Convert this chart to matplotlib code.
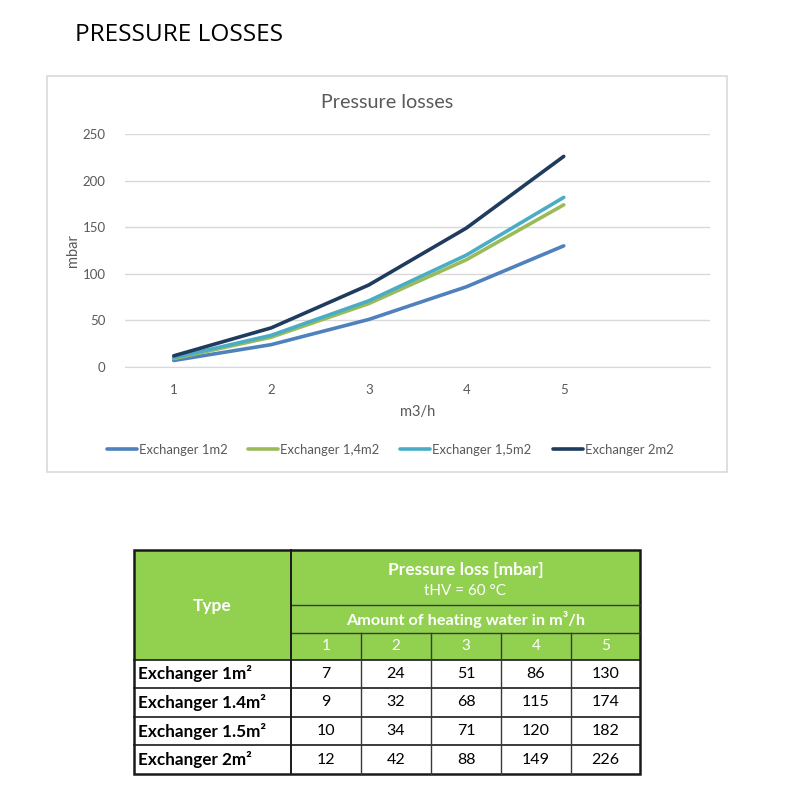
import matplotlib
matplotlib.use("Agg")
import matplotlib.pyplot as plt
from matplotlib.patches import Rectangle

# ---------------- data ----------------
flow = [1, 2, 3, 4, 5]
series_names = ["Exchanger 1m2", "Exchanger 1,4m2", "Exchanger 1,5m2", "Exchanger 2m2"]
table_names = ["Exchanger 1m\u00b2", "Exchanger 1.4m\u00b2", "Exchanger 1.5m\u00b2", "Exchanger 2m\u00b2"]
ex_1m2 = [7, 24, 51, 86, 130]
ex_14m2 = [9, 32, 68, 115, 174]
ex_15m2 = [10, 34, 71, 120, 182]
ex_2m2 = [12, 42, 88, 149, 226]
y_ticks = [0, 50, 100, 150, 200, 250]

series = [ex_1m2, ex_14m2, ex_15m2, ex_2m2]
colors = ["#4F81BD", "#9BBB59", "#4BACC6", "#1F3B5E"]

FONT = ["Lato", "DejaVu Sans"]
plt.rcParams["font.family"] = FONT
GRAY = "#595959"

fig = plt.figure(figsize=(8, 8), dpi=100)
fig.patch.set_facecolor("white")

# background axes in pixel coordinates
bg = fig.add_axes([0, 0, 1, 1], zorder=0)
bg.set_xlim(0, 800)
bg.set_ylim(800, 0)
bg.axis("off")

# page title
bg.text(75, 35, "PRESSURE LOSSES", fontsize=17.6, family=["Open Sans", "DejaVu Sans"],
        color="black", va="center", ha="left")

# chart box
bg.add_patch(Rectangle((47, 76), 680, 396, fill=False, edgecolor="#D9D9D9", lw=1.2))
bg.text(387, 102, "Pressure losses", fontsize=14.2, color=GRAY, ha="center", va="center")

# chart axes
ax = fig.add_axes([125 / 800, 1 - 367 / 800, (710 - 125) / 800, (367 - 134) / 800], zorder=1)
ax.patch.set_alpha(0)
for name, vals, c in zip(series_names, series, colors):
    ax.plot(flow, vals, color=c, lw=2.6, label=name, solid_capstyle="round", zorder=3)
ax.set_xlim(0.5, 6.5)
ax.set_ylim(0, 250)
ax.set_yticks(y_ticks)
ax.set_xticks(flow)
ax.grid(axis="y", color="#D9D9D9", lw=1)
ax.set_axisbelow(True)
for s in ["top", "right", "left"]:
    ax.spines[s].set_visible(False)
ax.spines["bottom"].set_color("#D9D9D9")
ax.tick_params(axis="both", length=0, labelsize=9.5, labelcolor=GRAY)
ax.tick_params(axis="x", pad=12)
ax.tick_params(axis="y", pad=14)
ax.set_ylabel("mbar", fontsize=10.5, color=GRAY, labelpad=2)
ax.set_xlabel("m3/h", fontsize=10.5, color=GRAY, labelpad=7)

fig.legend(loc="center", bbox_to_anchor=(390 / 800, 1 - 450 / 800), ncol=4, frameon=False,
           fontsize=9.4, labelcolor=GRAY, handlelength=2.3, columnspacing=1.6, handletextpad=0.15)

# ---------------- table ----------------
green = "#92D050"
col_x = [134, 291, 361, 431, 501, 571, 640]
row_y = [550, 605, 633, 660, 688, 717, 745, 774]

# green header background
bg.add_patch(Rectangle((col_x[0], row_y[0]), col_x[-1] - col_x[0], row_y[3] - row_y[0],
                       facecolor=green, edgecolor="none"))
lc = "#1a1a1a"
# horizontal lines
bg.plot([col_x[1], col_x[-1]], [row_y[1], row_y[1]], color="#3a3a3a", lw=1.0)
bg.plot([col_x[1], col_x[-1]], [row_y[2], row_y[2]], color="#3a3a3a", lw=1.0)
for y in row_y[3:-1]:
    bg.plot([col_x[0], col_x[-1]], [y, y], color=lc, lw=1.2)
# vertical lines
bg.plot([col_x[1], col_x[1]], [row_y[0], row_y[-1]], color=lc, lw=1.4)
for x in col_x[2:-1]:
    bg.plot([x, x], [row_y[2], row_y[-1]], color="#3a3a3a", lw=1.0)
# outer border
bg.add_patch(Rectangle((col_x[0], row_y[0]), col_x[-1] - col_x[0], row_y[-1] - row_y[0],
                       fill=False, edgecolor=lc, lw=1.8))

hx = (col_x[1] + col_x[-1]) / 2
bg.text((col_x[0] + col_x[1]) / 2, 606, "Type", fontsize=12.5,
        fontweight="bold", color="white", ha="center", va="center")
bg.text(hx, 570, "Pressure loss [mbar]", fontsize=12.5, fontweight="bold", color="white",
        ha="center", va="center")
bg.text(hx, 591, "tHV = 60 \u00b0C", fontsize=11, color="white", ha="center", va="center")
bg.text(hx, (row_y[1] + row_y[2]) / 2, "Amount of heating water in m\u00b3/h", fontsize=11.7,
        fontweight="bold", color="white", ha="center", va="center")
for i, f in enumerate(flow):
    bg.text((col_x[i + 1] + col_x[i + 2]) / 2, (row_y[2] + row_y[3]) / 2, str(f), fontsize=11,
            color="white", ha="center", va="center")

for r, (name, vals) in enumerate(zip(table_names, series)):
    yc = (row_y[3 + r] + row_y[4 + r]) / 2
    bg.text(138, yc, name, fontsize=12.3, fontweight="bold", color="black", ha="left", va="center")
    for i, v in enumerate(vals):
        bg.text((col_x[i + 1] + col_x[i + 2]) / 2, yc, str(v), fontsize=11.5, color="black",
                ha="center", va="center")

fig.savefig("out.png", dpi=100, facecolor="white")
